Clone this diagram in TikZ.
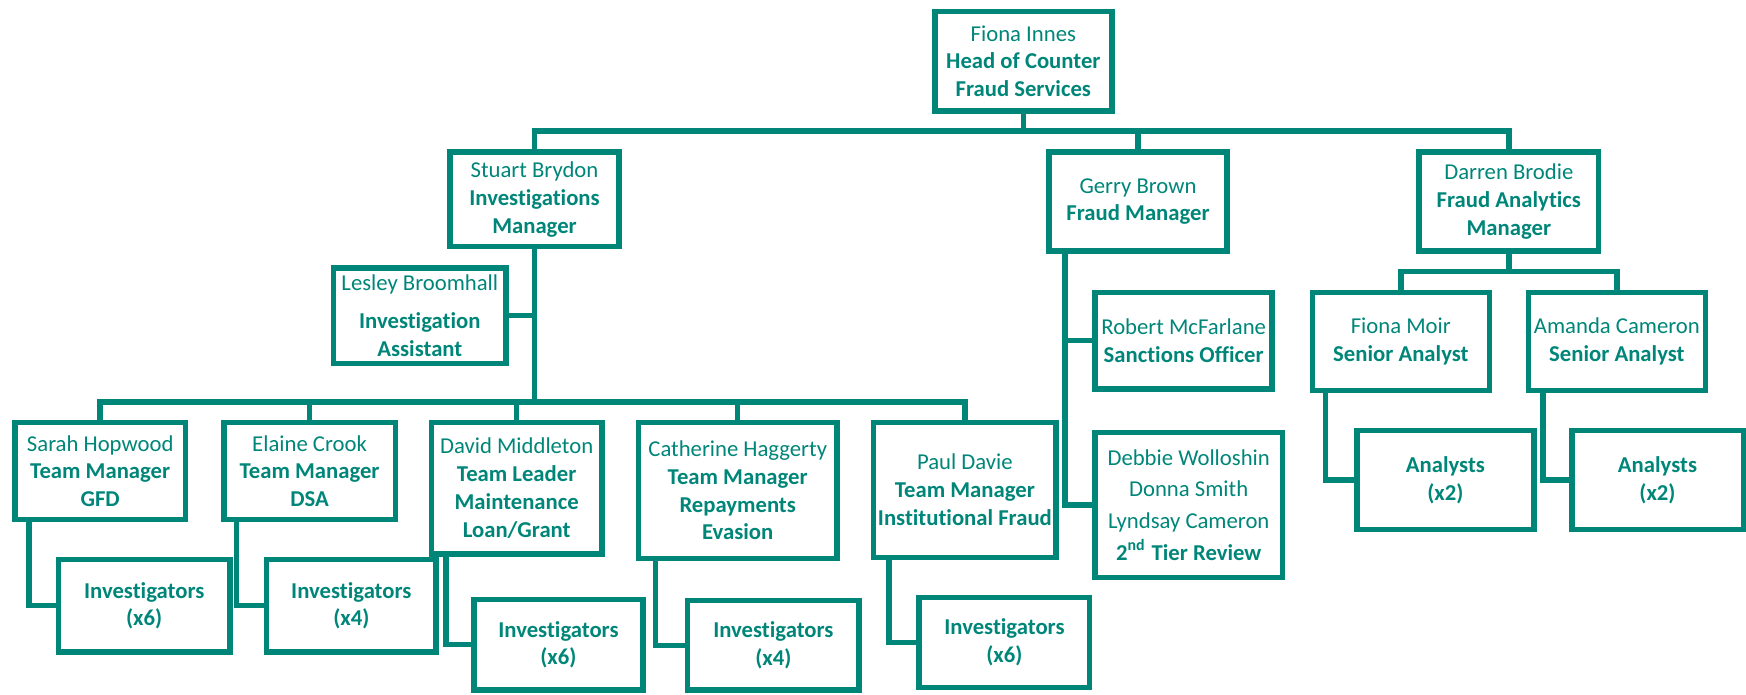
\documentclass[tikz,border=0pt]{standalone}
\usepackage{fontspec}
\setmainfont{Carlito}[Ligatures=NoCommon]
\definecolor{fraudteal}{RGB}{0,134,121}
\newcommand{\orgfont}{\fontsize{5.8pt}{7.1pt}\selectfont}
\tikzset{
	post/.style={draw=fraudteal, line width=1.4pt, text=fraudteal, align=center, inner sep=0pt, font=\orgfont},
	link/.style={draw=fraudteal, line width=1.4pt},
}
\begin{document}
\begin{tikzpicture}
	\useasboundingbox (0,0) rectangle (15.68,-6.24);

	\coordinate (bus1) at (0,-1.176);
	\coordinate (bus2) at (0,-3.61);
	\coordinate (bus3) at (0,-2.44);

	\node[post, minimum width=1.59cm, minimum height=0.89cm] (fiona)     at (9.19,-0.55)   {Fiona Innes\\\textbf{Head of Counter}\\\textbf{Fraud Services}};
	\node[post, minimum width=1.52cm, minimum height=0.85cm] (stuart)    at (4.80,-1.79)   {Stuart Brydon\\\textbf{Investigations}\\\textbf{Manager}};
	\node[post, minimum width=1.60cm, minimum height=0.89cm] (gerry)     at (10.22,-1.81)  {Gerry Brown\\\textbf{Fraud Manager}};
	\node[post, minimum width=1.61cm, minimum height=0.89cm] (darren)    at (13.55,-1.81)  {Darren Brodie\\\textbf{Fraud Analytics}\\\textbf{Manager}};
	\node[post, minimum width=1.55cm, minimum height=0.86cm] (lesley)    at (3.77,-2.835)  {Lesley Broomhall\\[2.8pt]\textbf{Investigation}\\\textbf{Assistant}};

	\node[post, minimum width=1.53cm, minimum height=0.87cm] (sarah)     at (0.90,-4.23)   {Sarah Hopwood\\\textbf{Team Manager}\\\textbf{GFD}};
	\node[post, minimum width=1.54cm, minimum height=0.87cm] (elaine)    at (2.78,-4.23)   {Elaine Crook\\\textbf{Team Manager}\\\textbf{DSA}};
	\node[post, minimum width=1.53cm, minimum height=1.18cm] (david)     at (4.64,-4.385)  {David Middleton\\\textbf{Team Leader}\\\textbf{Maintenance}\\\textbf{Loan/Grant}};
	\node[post, minimum width=1.78cm, minimum height=1.22cm] (catherine) at (6.625,-4.405) {Catherine Haggerty\\\textbf{Team Manager}\\\textbf{Repayments}\\\textbf{Evasion}};
	\node[post, minimum width=1.64cm, minimum height=1.21cm] (paul)      at (8.665,-4.40)  {Paul Davie\\\textbf{Team Manager}\\\textbf{Institutional Fraud}};

	\node[post, minimum width=1.59cm, minimum height=0.87cm] (robert)    at (10.63,-3.06)  {Robert McFarlane\\\textbf{Sanctions Officer}};
	\node[post, minimum width=1.68cm, minimum height=1.30cm] (debbie)    at (10.675,-4.535) {Debbie Wolloshin\\[1pt]Donna Smith\\[1pt]Lyndsay Cameron\\[1pt]\textbf{2\textsuperscript{nd} Tier Review}};
	\node[post, minimum width=1.59cm, minimum height=0.88cm] (fmoir)     at (12.58,-3.065) {Fiona Moir\\\textbf{Senior Analyst}};
	\node[post, minimum width=1.59cm, minimum height=0.88cm] (amanda)    at (14.52,-3.065) {Amanda Cameron\\\textbf{Senior Analyst}};

	\node[post, minimum width=1.54cm, minimum height=0.83cm] (invsarah)  at (1.295,-5.44)  {\textbf{Investigators}\\\textbf{(x6)}};
	\node[post, minimum width=1.52cm, minimum height=0.83cm] (invelaine) at (3.155,-5.44)  {\textbf{Investigators}\\\textbf{(x4)}};
	\node[post, minimum width=1.52cm, minimum height=0.81cm] (invdavid)  at (5.015,-5.79)  {\textbf{Investigators}\\\textbf{(x6)}};
	\node[post, minimum width=1.54cm, minimum height=0.80cm] (invcath)   at (6.945,-5.795) {\textbf{Investigators}\\\textbf{(x4)}};
	\node[post, minimum width=1.53cm, minimum height=0.81cm] (invpaul)   at (9.02,-5.77)   {\textbf{Investigators}\\\textbf{(x6)}};
	\node[post, minimum width=1.59cm, minimum height=0.89cm] (anmoir)    at (12.98,-4.31)  {\textbf{Analysts}\\\textbf{(x2)}};
	\node[post, minimum width=1.54cm, minimum height=0.89cm] (anamanda)  at (14.885,-4.31) {\textbf{Analysts}\\\textbf{(x2)}};

	% head to managers
	\draw[link] (fiona.south) |- (stuart.north |- bus1) -- (stuart.north);
	\draw[link] (fiona.south) |- (gerry.north |- bus1)  -- (gerry.north);
	\draw[link] (fiona.south) |- (darren.north |- bus1) -- (darren.north);

	% investigations
	\draw[link] (lesley.east) -- (lesley.east -| stuart.south);
	\draw[link] (stuart.south) |- (sarah.north |- bus2)     -- (sarah.north);
	\draw[link] (stuart.south) |- (elaine.north |- bus2)    -- (elaine.north);
	\draw[link] (stuart.south) |- (david.north |- bus2)     -- (david.north);
	\draw[link] (stuart.south) |- (catherine.north |- bus2) -- (catherine.north);
	\draw[link] (stuart.south) |- (paul.north |- bus2)      -- (paul.north);

	\draw[link] ([xshift=0.15cm]sarah.south west)     |- (invsarah.west);
	\draw[link] ([xshift=0.14cm]elaine.south west)    |- (invelaine.west);
	\draw[link] ([xshift=0.155cm]david.south west)    |- (invdavid.west);
	\draw[link] ([xshift=0.175cm]catherine.south west) |- (invcath.west);
	\draw[link] ([xshift=0.165cm]paul.south west)     |- (invpaul.west);

	% fraud manager
	\draw[link] ([xshift=0.17cm]gerry.south west) |- (robert.west);
	\draw[link] ([xshift=0.17cm]gerry.south west) |- (debbie.west);

	% analytics
	\draw[link] (darren.south) |- (fmoir.north |- bus3)  -- (fmoir.north);
	\draw[link] (darren.south) |- (amanda.north |- bus3) -- (amanda.north);
	\draw[link] ([xshift=0.145cm]fmoir.south west)  |- (anmoir.west);
	\draw[link] ([xshift=0.155cm]amanda.south west) |- (anamanda.west);
\end{tikzpicture}
\end{document}
